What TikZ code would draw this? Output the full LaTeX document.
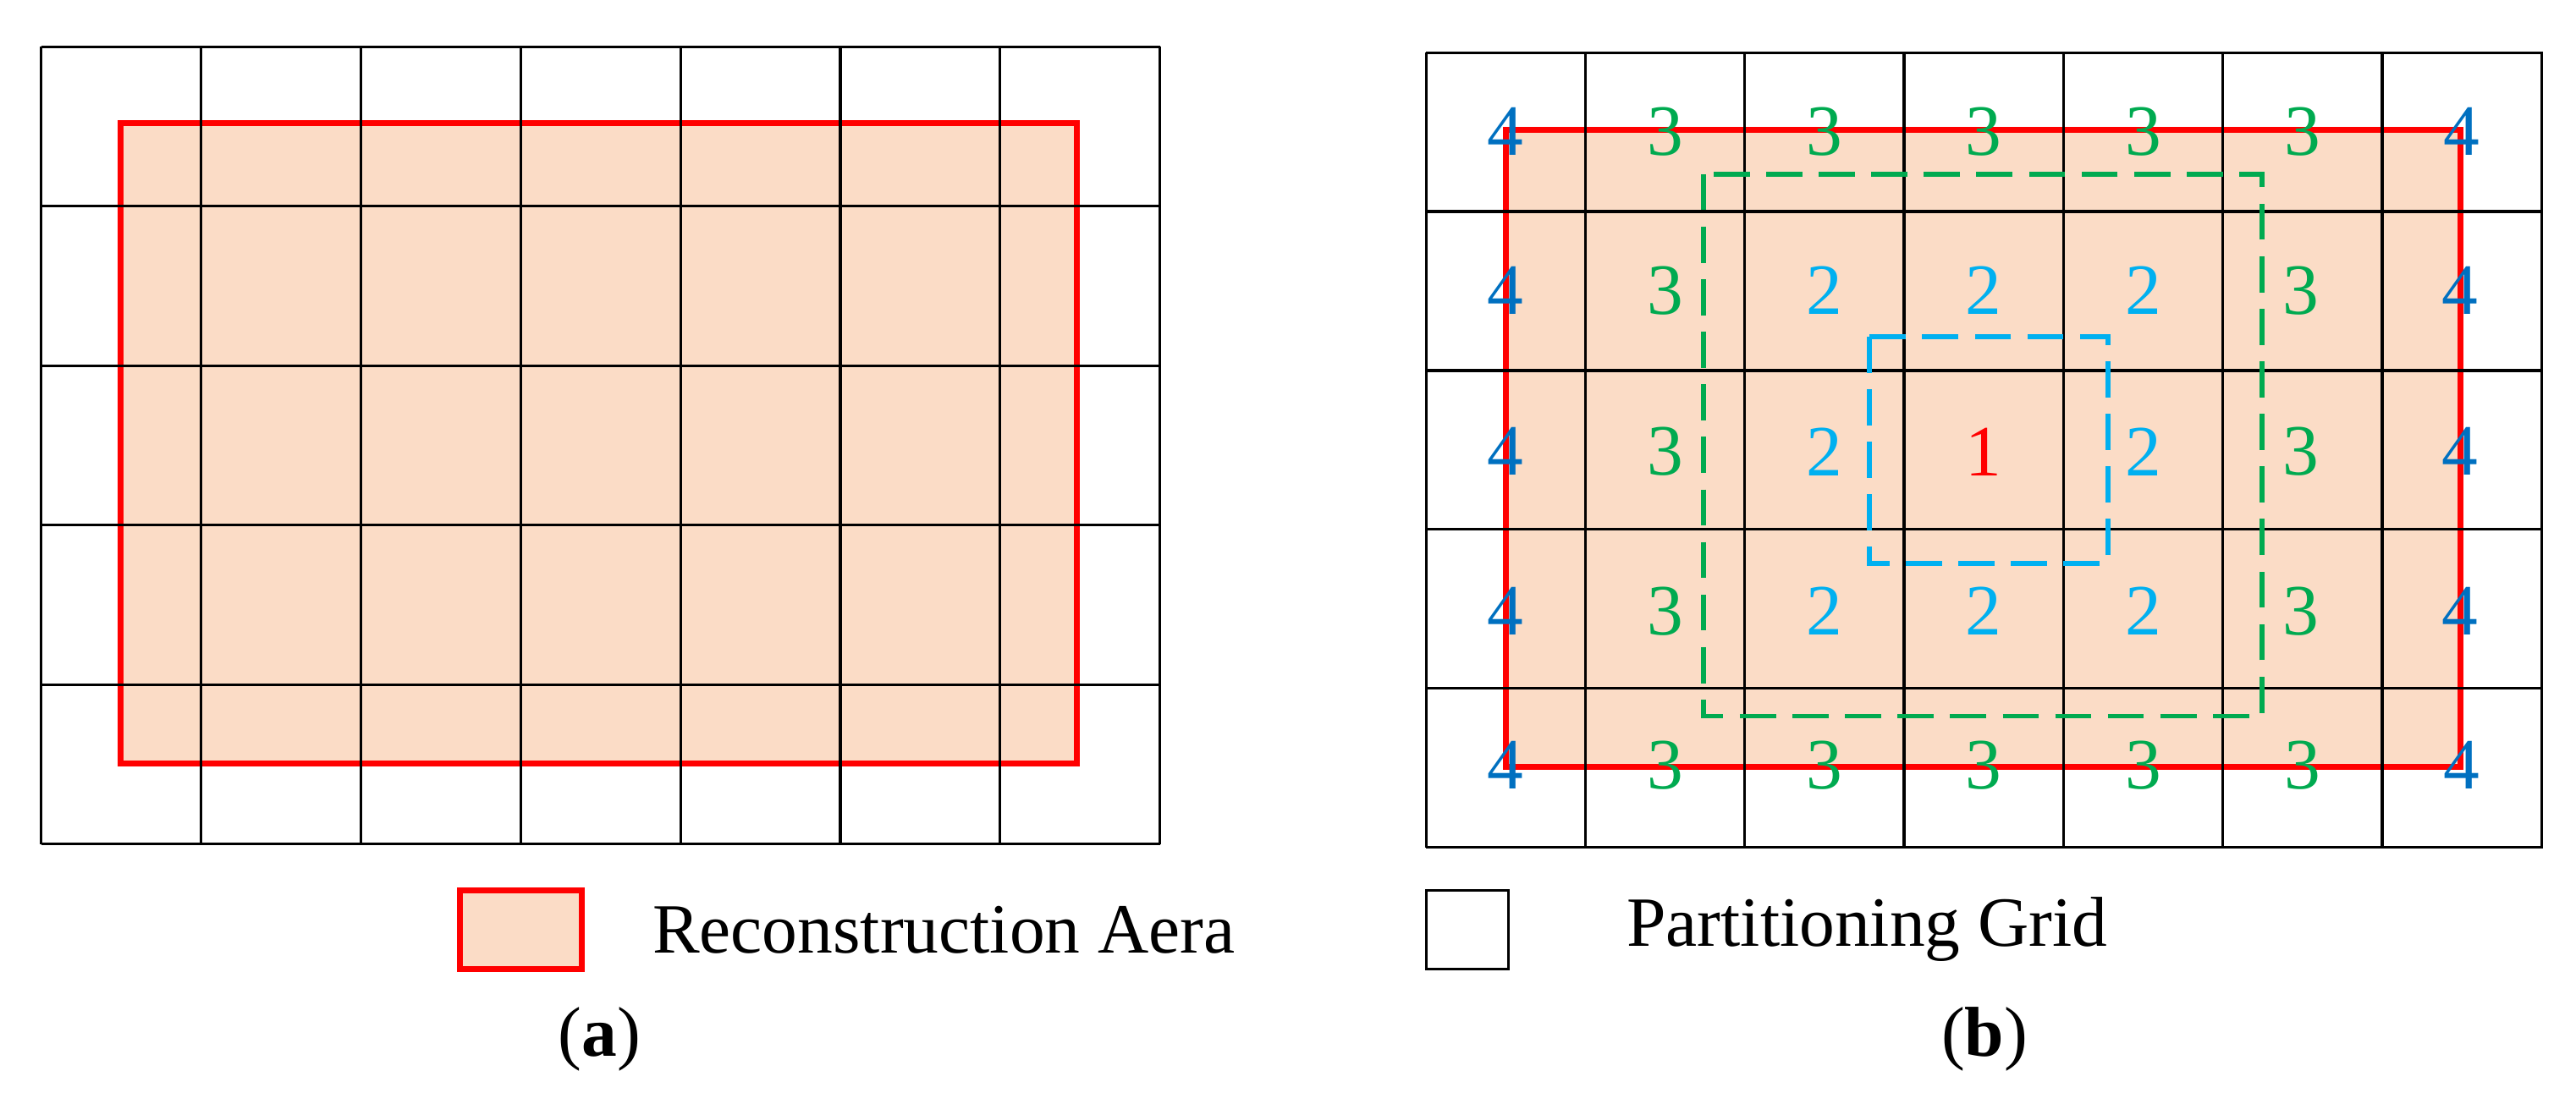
\documentclass[tikz,border=0pt]{standalone}
\usepackage{fontspec}
\setmainfont{Liberation Serif}
\definecolor{peach}{RGB}{251,220,198}
\definecolor{rd}{RGB}{255,0,0}
\definecolor{gr}{RGB}{0,170,80}
\definecolor{bd}{RGB}{0,112,192}
\definecolor{bl}{RGB}{0,176,240}
\tikzset{recon/.style={fill=peach,draw=rd,line width=3.5pt},
 gridline/.style={draw=black,line width=1.6pt},
 num/.style={font=\fontsize{44}{44}\selectfont,inner sep=0pt},
 lab/.style={font=\fontsize{43}{46}\selectfont,inner sep=0pt}}
\begin{document}
\begin{tikzpicture}[x=1pt,y=-1pt]
\useasboundingbox (0,0) rectangle (1568,672);
% (a)
\path[recon] (73.6,75) rectangle (655.6,465);
\foreach \i in {0,...,7} \draw[gridline] (25+97.3*\i,28.5) -- (25+97.3*\i,514);
\foreach \j in {0,...,5} \draw[gridline] (25,28.5+97.1*\j) -- (706,28.5+97.1*\j);
% (b)
\path[recon] (916.5,79) rectangle (1497.5,467);
\foreach \i in {0,...,7} \draw[gridline] (868+97*\i,32) -- (868+97*\i,516);
\foreach \j in {0,...,5} \draw[gridline] (868,32+96.8*\j) -- (1548,32+96.8*\j);
\draw[gr,dashed,line width=3pt,dash pattern=on 22pt off 10pt] (1037,106) rectangle (1377,436);
\draw[bl,dashed,line width=3pt,dash pattern=on 22pt off 10pt] (1138,205) rectangle (1283,343);
\foreach \c [count=\k from 0] in {4,3,3,3,3,3,4}{
 \pgfmathsetmacro{\xx}{916.5+97*\k}
 \ifnum\c=4 \def\cc{bd}\else\def\cc{gr}\fi
 \node[num,text=\cc] (t\k) at (\xx,80) {\c};
 \node[num,text=\cc] (b\k) at (\xx,466) {\c};
}
\foreach \r/\y in {1/177,2/275,3/372}{
 \node[num,text=bd] (l\r) at (916.5,\y) {4};
 \node[num,text=bd] (r\r) at (1497.5,\y) {4};
 \node[num,text=gr] (gl\r) at (1013.5,\y) {3};
 \node[num,text=gr] (gr\r) at (1400.5,\y) {3};
}
\foreach \k in {2,3,4}{
 \pgfmathsetmacro{\xx}{916.5+97*\k}
 \node[num,text=bl] (u\k) at (\xx,177) {2};
 \node[num,text=bl] (d\k) at (\xx,372) {2};
}
\node[num,text=bl] (m2) at (1110.5,275) {2};
\node[num,text=bl] (m4) at (1304.5,275) {2};
\node[num,text=rd] (one) at (1207.5,275) {1};
% legend
\draw[recon] (280,542) rectangle (354,590);
\node[lab,anchor=west] (lt1) at (397,566) {Reconstruction Aera};
\draw[gridline] (868,542) rectangle (918,590);
\node[lab,anchor=west] (lt2) at (990,566) {Partitioning Grid};
\node[lab] (ca) at (365,633) {(\textbf{a})};
\node[lab] (cb) at (1208,633) {(\textbf{b})};
\end{tikzpicture}
\end{document}
